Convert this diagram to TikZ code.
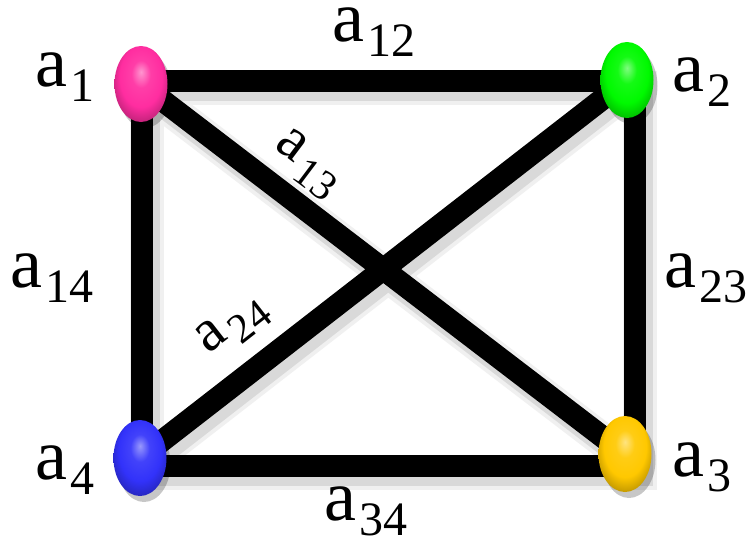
\documentclass[tikz,border=0pt]{standalone}
\usepackage{fontspec}
\setmainfont{Liberation Serif}
\newfontfamily\labfont{Liberation Serif}
\usetikzlibrary{shapes.geometric,shadows}
\pgfdeclarelayer{bg}
\pgfsetlayers{bg,main}
\colorlet{nodecol}{red}
\pgfdeclareradialshading[nodecol]{nodeshade}{\pgfqpoint{0bp}{8bp}}{color(0bp)=(nodecol!50!white); color(9bp)=(nodecol!92!white); color(20bp)=(nodecol); color(33bp)=(nodecol!65!black); color(50bp)=(nodecol!65!black)}
\definecolor{vpink}{RGB}{255,45,160}
\definecolor{vgreen}{RGB}{0,250,0}
\definecolor{vblue}{RGB}{50,50,250}
\definecolor{vyellow}{RGB}{255,200,0}
\newcommand\lbl[1]{{\labfont\fontsize{72}{72}\selectfont a}\kern3pt\raisebox{-15pt}{\labfont\fontsize{48}{48}\selectfont #1}}
\newcommand\lblr[1]{{\labfont\fontsize{60}{60}\selectfont a}\kern5pt\raisebox{-14pt}{\labfont\fontsize{42}{42}\selectfont #1}}
\newcommand\drawedges[3]{%
 \draw[#1] ([shift={(0.5+#2,-3.5+#3)}]a1.center) -- ([shift={(7.5+#2,0.5+#3)}]a2.center);
 \draw[#1] ([shift={(0.5+#2,-3.5+#3)}]a1.center) -- ([shift={(1.5+#2,7.5+#3)}]a4.center);
 \draw[#1] ([shift={(7.5+#2,0.5+#3)}]a2.center) -- ([shift={(9.5+#2,11.5+#3)}]a3.center);
 \draw[#1] ([shift={(1.5+#2,7.5+#3)}]a4.center) -- ([shift={(9.5+#2,11.5+#3)}]a3.center);
 \draw[#1] ([shift={(#2,#3)}]a1.center) -- ([shift={(#2,#3)}]a3.center);
 \draw[#1] ([shift={(#2,#3)}]a2.center) -- ([shift={(#2,#3)}]a4.center);
}
\tikzset{
 vcol/.code={\colorlet{nodecol}{#1}},
 vert/.style={ellipse, minimum width=53pt, minimum height=76pt, inner sep=0pt,
   vcol=#1, shade, shading=nodeshade,
   drop shadow={shadow xshift=4pt, shadow yshift=-6pt, opacity=0.22, fill=black}},
 edge/.style={line width=22pt, black, line cap=rect},
 shadowA/.style={line width=34pt, black!6, line cap=rect},
 shadowB/.style={line width=26pt, black!15, line cap=rect},
 lab/.style={anchor=base west, inner sep=0pt},
 rlab/.style={anchor=center, inner sep=0pt}
}
\begin{document}
\begin{tikzpicture}[x=1pt,y=-1pt]
\useasboundingbox (0,0) rectangle (747,541);
\node[vert=vpink] (a1) at (141,84) {};
\node[vert=vgreen] (a2) at (627,80) {};
\node[vert=vyellow] (a3) at (625,454) {};
\node[vert=vblue] (a4) at (140,458) {};
\begin{pgfonlayer}{bg}
 \fill[white] (0,0) rectangle (747,541);
 \drawedges{shadowA}{5}{7}
 \drawedges{shadowB}{5}{7}
 \drawedges{edge}{0}{0}
\end{pgfonlayer}
\node[lab] (l1) at (35,86) {\lbl{1}};
\node[lab] (l2) at (672,91) {\lbl{2}};
\node[lab] (l3) at (672,476) {\lbl{3}};
\node[lab] (l4) at (35,479) {\lbl{4}};
\node[lab] (l12) at (332,41) {\lbl{12}};
\node[lab] (l14) at (10,287) {\lbl{14}};
\node[lab] (l23) at (664,287) {\lbl{23}};
\node[lab] (l34) at (324,520) {\lbl{34}};
\node[rlab, rotate=-37] (l13) at (307,164) {\lblr{13}};
\node[rlab, rotate=38] (l24) at (233,326) {\lblr{24}};
\end{tikzpicture}
\end{document}
